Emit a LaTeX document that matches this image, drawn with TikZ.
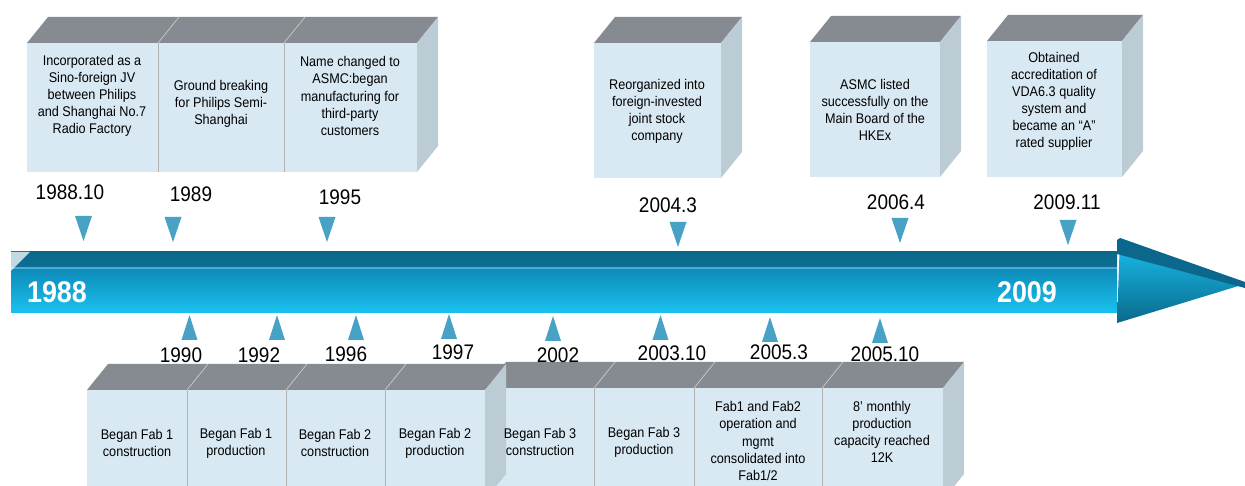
\documentclass[tikz,border=0pt]{standalone}
\usepackage{fontspec}
\setmainfont{Liberation Sans}[FakeStretch=0.9]
\usepackage{xcolor}
\usetikzlibrary{positioning,calc}

\definecolor{boxfront}{RGB}{216,233,243}
\definecolor{boxtop}{RGB}{134,139,145}
\definecolor{boxside}{RGB}{188,204,212}
\definecolor{marker}{RGB}{72,162,198}
\definecolor{bardark}{RGB}{11,104,140}
\definecolor{barmid}{RGB}{14,140,186}
\definecolor{barlight}{RGB}{26,194,240}
\definecolor{barline}{RGB}{72,172,212}

\tikzset{
    eventtext/.style={align=center, inner sep=0pt, font=\fontsize{8}{9.7}\selectfont},
    yeartext/.style={inner sep=0pt, font=\fontsize{12}{14}\selectfont},
    endyear/.style={inner sep=0pt, text=white, font=\bfseries\fontsize{17}{20}\selectfont},
    divider/.style={draw=gray!60, line width=0.4pt},
    topdivider/.style={draw=white!55!boxtop, line width=0.4pt}
}

% front face x1,y1 to x2,y2 (pixels), with top and side faces
\newcommand{\eventprism}[4]{%
    \fill[boxtop] (#1,#2) -- (#1+21,#2-26) -- (#3+21,#2-26) -- (#3,#2) -- cycle;
    \fill[boxside] (#3,#2) -- (#3+21,#2-26) -- (#3+21,#4-26) -- (#3,#4) -- cycle;
    \fill[boxfront] (#1,#2) rectangle (#3,#4);
}

\begin{document}
\begin{tikzpicture}[x=0.02cm, y=-0.02cm]
    \useasboundingbox (0,0) rectangle (1245,486);
    \clip (0,0) rectangle (1245,486);

    % Timeline bar
    \shade[top color=bardark, bottom color=bardark!80!barmid] (11,252) rectangle (1117,268);
    \fill[barline] (11,267.5) rectangle (1117,270);
    \shade[top color=barmid, bottom color=barlight] (11,270) rectangle (1117,313);
    \fill[white, opacity=0.75] (11,252) -- (30,252) -- (11,271) -- cycle;
    % Arrow head
    \shade[top color=barlight, bottom color=barmid!75!black] (1120,238) -- (1245,284) -- (1117,323) -- cycle;
    \fill[bardark] (1120,238) -- (1245,282) -- (1245,288) -- (1117,254) -- (1117,240) -- cycle;
    \node[endyear] (start) at (57,292) {1988};
    \node[endyear] (finish) at (1027,292) {2009};

    % Upper boxes
    \eventprism{27}{43}{417}{172}
    \foreach \d in {158,284} {
        \draw[divider] (\d,43) -- (\d,172);
        \draw[topdivider] (\d,43) -- (\d+21,17);
    }
    \eventprism{594}{43}{721}{178}
    \eventprism{810}{42}{940}{177}
    \eventprism{987}{41}{1122}{177}

    \node[eventtext] (ev1988) at (92,96) {Incorporated as a\\Sino-foreign JV\\between Philips\\and Shanghai No.7\\Radio Factory};
    \node[eventtext] (ev1989) at (221,104) {Ground breaking\\for Philips Semi-\\Shanghai};
    \node[eventtext] (ev1995) at (350,96) {Name changed to\\ASMC:began\\manufacturing for\\third-party\\customers};
    \node[eventtext] (ev2004) at (657,111) {Reorganized into\\foreign-invested\\joint stock\\company};
    \node[eventtext] (ev2006) at (875,110) {ASMC listed\\successfully on the\\Main Board of the\\HKEx};
    \node[eventtext] (ev2009) at (1054,101) {Obtained\\accreditation of\\VDA6.3 quality\\system and\\became an “A”\\rated supplier};

    % Lower boxes
    \eventprism{485}{388}{943}{500}
    \foreach \d in {594,694,822} {
        \draw[divider] (\d,388) -- (\d,500);
        \draw[topdivider] (\d,388) -- (\d+21,362);
    }
    \eventprism{87}{390}{485}{500}
    \foreach \d in {187,286,385} {
        \draw[divider] (\d,390) -- (\d,500);
        \draw[topdivider] (\d,390) -- (\d+21,364);
    }

    \node[eventtext] (ev1990) at (137,443) {Began Fab 1\\construction};
    \node[eventtext] (ev1992) at (236,443) {Began Fab 1\\production};
    \node[eventtext] (ev1996) at (335,443) {Began Fab 2\\construction};
    \node[eventtext] (ev1997) at (435,443) {Began Fab 2\\production};
    \node[eventtext] (ev2002) at (540,442) {Began Fab 3\\construction};
    \node[eventtext] (ev2003) at (644,442) {Began Fab 3\\production};
    \node[eventtext] (ev2005a) at (758,441) {Fab1 and Fab2\\operation and\\mgmt\\consolidated into\\Fab1/2};
    \node[eventtext] (ev2005b) at (882,432) {8’ monthly\\production\\capacity reached\\12K};

    % Markers above the bar
    \foreach \x/\y in {83.5/216, 173/217, 327/217, 678/222, 900/218, 1068/220}
        \fill[marker] (\x-8.5,\y) -- (\x+8.5,\y) -- (\x,\y+25) -- cycle;
    % Markers below the bar
    \foreach \x/\y in {189.5/340, 277/340, 356/340, 449/339, 553/341, 660.5/340, 770/342, 880/343}
        \fill[marker] (\x-8,\y) -- (\x+8,\y) -- (\x,\y-25) -- cycle;

    % Dates
    \foreach \x/\y/\t [count=\i] in {70/192.5/1988.10, 191/194.5/1989, 340/197.5/1995,
            668/205.5/2004.3, 896/202/2006.4, 1067/202/2009.11}
        \node[yeartext] (top\i) at (\x,\y) {\t};
    \foreach \x/\y/\t [count=\i] in {181/355/1990, 259/355/1992, 346/354/1996, 453/352/1997,
            558/355/2002, 672/353/2003.10, 779/352/2005.3, 885/354/2005.10}
        \node[yeartext] (bottom\i) at (\x,\y) {\t};
\end{tikzpicture}
\end{document}
